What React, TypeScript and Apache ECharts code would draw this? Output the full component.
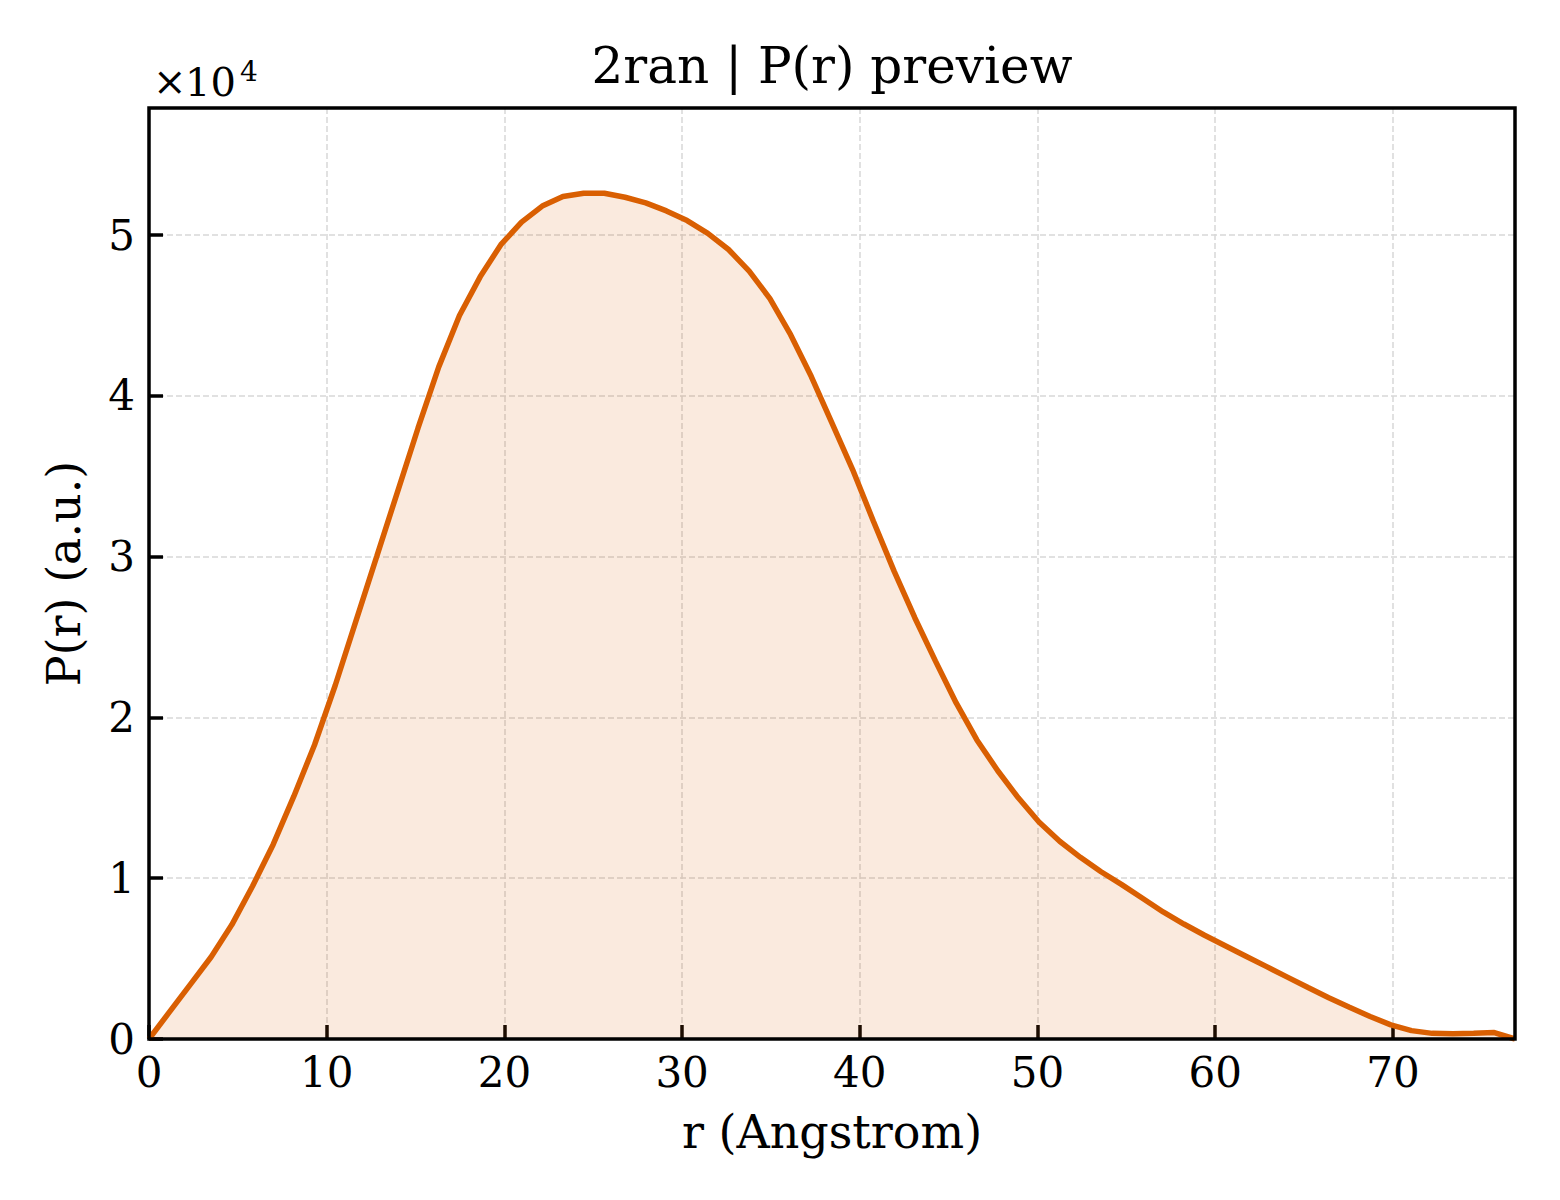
import { useEffect, useRef } from "react";
import * as echarts from "echarts";

// r (Angstrom) sample positions
const rValues = [
  0, 1.165, 2.329, 3.494, 4.659, 5.824, 6.988, 8.153, 9.318, 10.482,
  11.647, 12.812, 13.976, 15.141, 16.306, 17.471, 18.635, 19.8, 20.965, 22.129,
  23.294, 24.459, 25.623, 26.788, 27.953, 29.118, 30.282, 31.447, 32.612, 33.776,
  34.941, 36.106, 37.27, 38.435, 39.6, 40.765, 41.929, 43.094, 44.259, 45.423,
  46.588, 47.753, 48.917, 50.082, 51.247, 52.412, 53.576, 54.741, 55.906, 57.07,
  58.235, 59.4, 60.564, 61.729, 62.894, 64.059, 65.223, 66.388, 67.553, 68.717,
  69.882, 71.047, 72.211, 73.376, 74.541, 75.706, 76.87,
];

// P(r) in units of 1e4
const prValues = [
  0, 0.17, 0.34, 0.51, 0.71, 0.95, 1.21, 1.51, 1.83, 2.2,
  2.6, 3.0, 3.4, 3.8, 4.18, 4.5, 4.74, 4.94, 5.08, 5.18,
  5.24, 5.26, 5.26, 5.235, 5.2, 5.15, 5.09, 5.01, 4.91, 4.775,
  4.605, 4.38, 4.12, 3.83, 3.54, 3.22, 2.91, 2.62, 2.35, 2.09,
  1.86, 1.67, 1.5, 1.35, 1.23, 1.13, 1.04, 0.96, 0.875, 0.79,
  0.715, 0.645, 0.58, 0.515, 0.45, 0.385, 0.32, 0.257, 0.197, 0.14,
  0.088, 0.052, 0.035, 0.032, 0.035, 0.04, 0,
];

const xTicks = [0, 10, 20, 30, 40, 50, 60, 70];
const yTicks = [0, 1, 2, 3, 4, 5];

const R_MAX = 76.87;
const Y_MAX = 5.79;
const FONT = "DejaVu Serif";
const ORANGE = "#d95f02";

export default function App() {
  const chartRef = useRef<HTMLDivElement>(null);

  useEffect(() => {
    if (!chartRef.current) return;
    const chart = echarts.init(chartRef.current, null, { renderer: "svg" });

    const tickStyle = { show: true, inside: true, length: 14, lineStyle: { color: "#000", width: 3.5 } };
    const gridLine = { show: true, lineStyle: { color: "#d8d8d8", width: 1.5, type: [6, 3] as any } };

    chart.setOption({
      animation: false,
      backgroundColor: "#fff",
      textStyle: { fontFamily: FONT },
      grid: { left: 149, top: 108, width: 1366, height: 931, containLabel: false },
      xAxis: {
        type: "value",
        min: 0,
        max: R_MAX,
        interval: 10,
        name: "r (Angstrom)",
        nameLocation: "middle",
        nameGap: 70,
        nameTextStyle: { fontFamily: FONT, fontSize: 46, color: "#000" },
        axisLine: { show: false },
        axisTick: tickStyle,
        splitLine: gridLine,
        axisLabel: {
          fontFamily: FONT,
          fontSize: 42,
          color: "#000",
          margin: 12,
          showMaxLabel: false,
          formatter: (v: number) => (xTicks.includes(v) ? String(v) : ""),
        },
      },
      yAxis: {
        type: "value",
        min: 0,
        max: Y_MAX,
        interval: 1,
        name: "P(r) (a.u.)",
        nameLocation: "middle",
        nameGap: 62,
        nameTextStyle: { fontFamily: FONT, fontSize: 46, color: "#000" },
        axisLine: { show: false },
        axisTick: tickStyle,
        splitLine: gridLine,
        axisLabel: {
          fontFamily: FONT,
          fontSize: 42,
          color: "#000",
          margin: 14,
          showMaxLabel: false,
          formatter: (v: number) => (yTicks.includes(v) ? String(v) : ""),
        },
      },
      graphic: [
        {
          type: "rect",
          z: 100,
          shape: { x: 149, y: 108, width: 1366, height: 931 },
          style: { fill: "none", stroke: "#000", lineWidth: 3.5 },
          silent: true,
        },
        {
          type: "text",
          x: 832,
          y: 66,
          style: {
            text: "2ran | P(r) preview",
            font: `50px '${FONT}'`,
            fill: "#000",
            textAlign: "center",
            textVerticalAlign: "middle",
          },
        },
        {
          type: "text",
          x: 153,
          y: 81,
          style: {
            text: "×",
            font: `40px '${FONT}'`,
            fill: "#000",
            textAlign: "left",
            textVerticalAlign: "middle",
          },
        },
        {
          type: "text",
          x: 185,
          y: 82,
          style: {
            text: "10",
            font: `40px '${FONT}'`,
            fill: "#000",
            textAlign: "left",
            textVerticalAlign: "middle",
          },
        },
        {
          type: "text",
          x: 240,
          y: 71,
          style: {
            text: "4",
            font: `28px '${FONT}'`,
            fill: "#000",
            textAlign: "left",
            textVerticalAlign: "middle",
          },
        },
      ],
      series: [
        {
          type: "line",
          data: rValues.map((r, i) => [r, prValues[i]]),
          showSymbol: false,
          smooth: false,
          lineStyle: { color: ORANGE, width: 5.5 },
          areaStyle: { color: ORANGE, opacity: 0.13 },
          z: 3,
        },
      ],
    });

    return () => chart.dispose();
  }, []);

  return (
    <div
      ref={chartRef}
      style={{ position: "absolute", left: 0, top: 0, width: 1560, height: 1200, background: "#fff" }}
    />
  );
}
